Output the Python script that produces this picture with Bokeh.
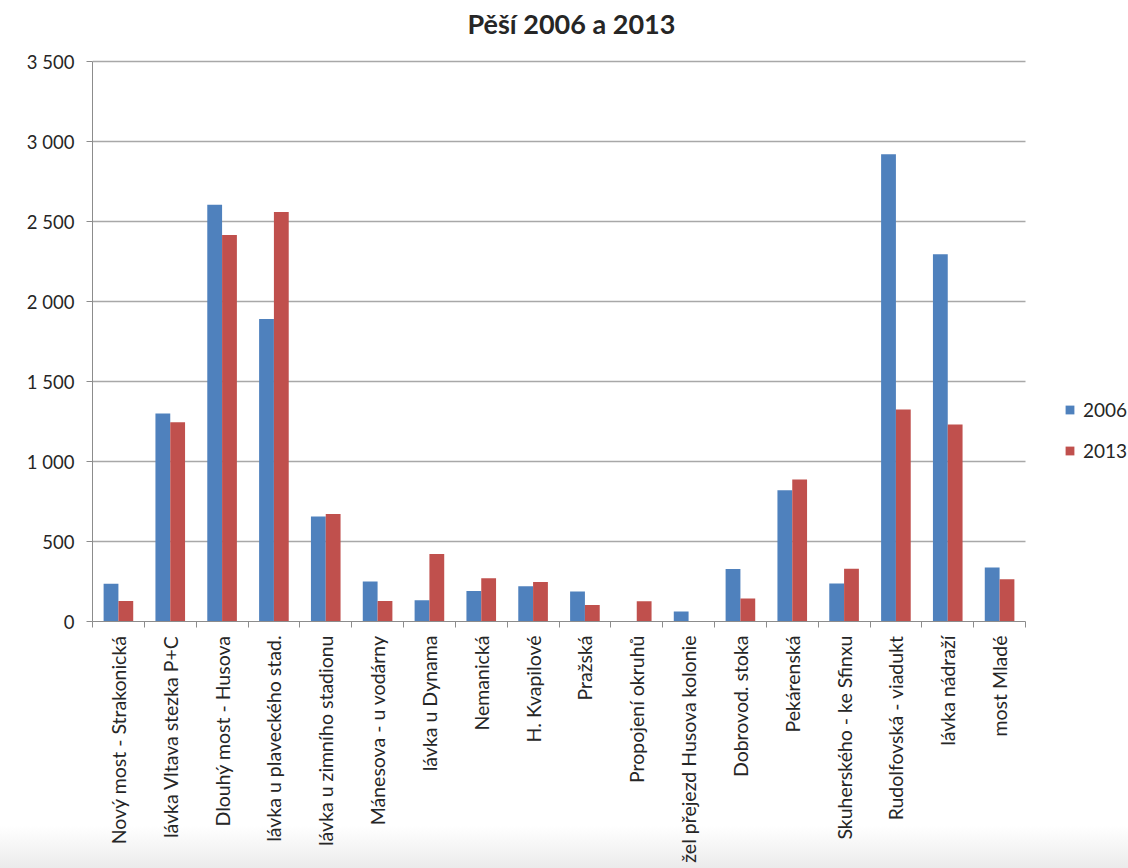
from bokeh.plotting import figure
from bokeh.models import (ColumnDataSource, Range1d, FixedTicker, CustomJSTickFormatter,
                          Legend, LegendItem, InlineStyleSheet)
from bokeh.transform import dodge
from bokeh.embed import file_html
from bokeh.resources import INLINE
import math

# Pedestrian counts per counting point, 2006 vs 2013
categories = [
    "Nový most - Strakonická",
    "lávka Vltava stezka P+C",
    "Dlouhý most - Husova",
    "lávka u plaveckého stad.",
    "lávka u zimního stadionu",
    "Mánesova - u vodárny",
    "lávka u Dynama",
    "Nemanická",
    "H. Kvapilové",
    "Pražská",
    "Propojení okruhů",
    "žel přejezd Husova kolonie",
    "Dobrovod. stoka",
    "Pekárenská",
    "Skuherského - ke Sfinxu",
    "Rudolfovská - viadukt",
    "lávka nádraží",
    "most Mladé",
]
values_2006 = [236, 1300, 2605, 1890, 656, 250, 133, 190, 220, 188, 0, 62, 328, 820, 238, 2920, 2295, 338]
values_2013 = [128, 1245, 2415, 2560, 672, 128, 422, 270, 247, 103, 126, 0, 144, 888, 330, 1325, 1232, 264]
series_names = ["2006", "2013"]
y_ticks = [0, 500, 1000, 1500, 2000, 2500, 3000, 3500]

BLUE = "#4F81BD"
RED = "#C0504D"
FONT = "Lato"
TEXT = "#262626"
GRID = "#a8a8a8"
AXIS = "#8c8c8c"

n = len(categories)
y_max = y_ticks[-1]
src = ColumnDataSource(dict(
    xc=[i + 0.5 for i in range(n)],
    v2006=values_2006,
    v2013=values_2013,
))

# The plotting frame is a little larger than the value area so that the title
# and the legend have room; axis lines and grid lines are bounded to 0..n, 0..y_max.
LEFT, TOP, BOTTOM = 92, 43, 247
CAT_W = 933                       # px used by the 18 categories
VAL_H = 560                       # px used by 0..y_max
x_end = n * (1128 - LEFT) / CAT_W
y_end = y_max * (868 - BOTTOM - TOP) / VAL_H

p = figure(width=1128, height=868,
           x_range=Range1d(0, x_end), y_range=Range1d(0, y_end),
           output_backend="svg", toolbar_location=None,
           min_border_left=LEFT, min_border_right=0,
           min_border_top=TOP, min_border_bottom=BOTTOM)

bar_w = 1 / 3.5
r06 = p.vbar(x=dodge("xc", -bar_w / 2), top="v2006", width=bar_w, source=src,
             fill_color=BLUE, line_color=None)
r13 = p.vbar(x=dodge("xc", bar_w / 2), top="v2013", width=bar_w, source=src,
             fill_color=RED, line_color=None)

# title
p.title.text = "Pěší 2006 a 2013"
p.title.text_font = FONT
p.title.text_font_style = "bold"
p.title.text_font_size = "27px"
p.title.text_color = TEXT
p.title.align = "left"
p.title.offset = 375
p.title.standoff = 8

p.outline_line_color = None
p.background_fill_color = "white"
p.border_fill_alpha = 0

# y axis
p.yaxis.bounds = (0, y_max)
p.yaxis.ticker = FixedTicker(ticks=y_ticks)
p.yaxis.formatter = CustomJSTickFormatter(code="""
    const t = Math.round(tick);
    if (t >= 1000) {
        return Math.floor(t / 1000) + ' ' + String(t % 1000).padStart(3, '0');
    }
    return String(t);
""")
p.yaxis.axis_line_color = AXIS
p.yaxis.major_tick_line_color = AXIS
p.yaxis.major_tick_out = 6
p.yaxis.major_tick_in = 0
p.yaxis.minor_tick_line_color = None
p.yaxis.major_label_text_font = FONT
p.yaxis.major_label_text_font_size = "18.5px"
p.yaxis.major_label_text_color = TEXT
p.yaxis.major_label_standoff = 12

p.ygrid.grid_line_color = GRID
p.ygrid.grid_line_width = 1.4
p.ygrid.cross_bounds = (0, n)
p.xgrid.grid_line_color = None

# x axis: labels at category centres, tick marks at category boundaries
p.xaxis.bounds = (0, n)
p.xaxis.ticker = FixedTicker(ticks=[i + 0.5 for i in range(n)],
                             minor_ticks=list(range(n + 1)))
p.xaxis.formatter = CustomJSTickFormatter(args=dict(names=categories),
                                          code="return names[Math.floor(tick)] || '';")
p.xaxis.axis_line_color = AXIS
p.xaxis.major_tick_line_color = None
p.xaxis.major_tick_out = 0
p.xaxis.major_tick_in = 0
p.xaxis.minor_tick_line_color = AXIS
p.xaxis.minor_tick_out = 6
p.xaxis.minor_tick_in = 0
p.xaxis.major_label_orientation = math.pi / 2
p.xaxis.major_label_text_font = FONT
p.xaxis.major_label_text_font_size = "19.5px"
p.xaxis.major_label_text_color = TEXT
p.xaxis.major_label_standoff = 8

# legend to the right of the bars
legend = Legend(items=[LegendItem(label=series_names[0], renderers=[r06]),
                       LegendItem(label=series_names[1], renderers=[r13])],
                location=(972, 159))
legend.glyph_width = 11
legend.glyph_height = 11
legend.label_standoff = 8
legend.spacing = 18
legend.padding = 0
legend.margin = 0
legend.border_line_color = None
legend.background_fill_alpha = 0
legend.label_text_font = FONT
legend.label_text_font_size = "19px"
legend.label_text_color = TEXT
p.add_layout(legend, "center")

# soft grey band along the bottom edge of the page
p.stylesheets = [InlineStyleSheet(css="""
:host {
  background: linear-gradient(to bottom, #ffffff 0px, #ffffff 826px, #ebebeb 868px);
}
""")]

open("out.html", "w").write(file_html(p, INLINE))
